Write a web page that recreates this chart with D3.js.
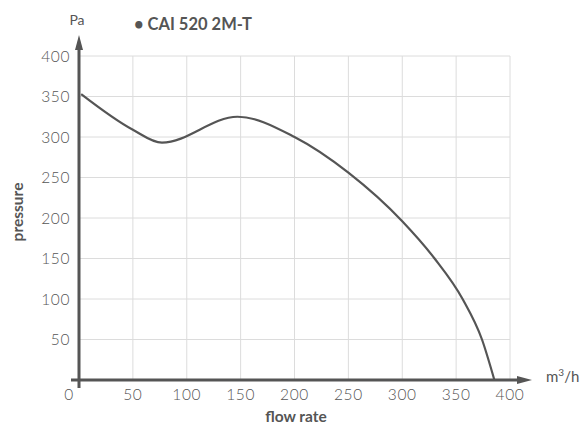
<!DOCTYPE html>
<html><head><meta charset="utf-8">
<script src="https://cdn.jsdelivr.net/npm/d3@7"></script>
<style>
body{margin:0;background:#fff;}
text{font-family:Lato,"Open Sans",sans-serif;fill:#555;}
</style></head>
<body><svg id="c" width="581" height="425"></svg>
<script>
const flowRate = [2, 50, 77, 147, 200, 250, 300, 330, 356, 374, 385.5];
const pressure = [353, 309, 293, 325, 300, 256, 196, 150, 100, 50, 0];
const xTicks = [0, 50, 100, 150, 200, 250, 300, 350, 400];
const yTicks = [50, 100, 150, 200, 250, 300, 350, 400];
const seriesName = "CAI 520 2M-T";

const svg = d3.select("#c");
const x = d3.scaleLinear().domain([0, 400]).range([79, 510]);
const y = d3.scaleLinear().domain([0, 400]).range([380, 56]);
const col = "#555";

// grid
svg.append("g").selectAll("line").data(xTicks.filter(d => d > 0)).join("line")
  .attr("x1", d => x(d)).attr("x2", d => x(d)).attr("y1", y(0)).attr("y2", y(400))
  .attr("stroke", "#dcdcdc").attr("stroke-width", 1);
svg.append("g").selectAll("line").data(yTicks).join("line")
  .attr("x1", x(0)).attr("x2", x(400)).attr("y1", d => y(d)).attr("y2", d => y(d))
  .attr("stroke", "#dcdcdc").attr("stroke-width", 1);

// curve
const pts = flowRate.map((f, i) => [f, pressure[i]]);
svg.append("path").datum(pts)
  .attr("d", d3.line().x(d => x(d[0])).y(d => y(d[1])).curve(d3.curveMonotoneX))
  .attr("fill", "none").attr("stroke", col).attr("stroke-width", 2.2);

// axes
svg.append("line").attr("x1", x(0)).attr("x2", x(0)).attr("y1", 388).attr("y2", 45)
  .attr("stroke", col).attr("stroke-width", 3);
svg.append("path").attr("d", `M${x(0)},35 L${x(0)+4},50 L${x(0)-4},50 Z`).attr("fill", col);
svg.append("line").attr("x1", 71).attr("x2", 522).attr("y1", y(0)).attr("y2", y(0))
  .attr("stroke", col).attr("stroke-width", 3);
svg.append("path").attr("d", `M532,${y(0)} L517,${y(0)-4} L517,${y(0)+4} Z`).attr("fill", col);

// tick labels
svg.append("g").selectAll("text").data(yTicks).join("text")
  .attr("x", 70).attr("y", d => y(d) + 5.5).attr("text-anchor", "end")
  .attr("font-size", 15.5).attr("font-weight", 300).attr("letter-spacing", 0.6).text(d => d);
svg.append("g").selectAll("text").data(xTicks).join("text")
  .attr("x", d => d === 0 ? x(d) - 10 : x(d)).attr("y", 400).attr("text-anchor", "middle")
  .attr("font-size", 15.5).attr("font-weight", 300).attr("letter-spacing", 0.6).text(d => d);

// labels
svg.append("text").attr("x", 77).attr("y", 25).attr("text-anchor", "middle")
  .attr("font-size", 14).text("Pa");
svg.append("text").attr("x", 134).attr("y", 30)
  .attr("font-size", 16.5).attr("font-weight", 700).text("• " + seriesName);
svg.append("text").attr("x", 546).attr("y", 382)
  .attr("font-size", 15).html("m<tspan font-size='10' dy='-6'>3</tspan><tspan dy='6'>/h</tspan>");
svg.append("text").attr("x", 296).attr("y", 422).attr("text-anchor", "middle")
  .attr("font-size", 15.5).attr("font-weight", 700).text("flow rate");
svg.append("text").attr("transform", "translate(23,212) rotate(-90)").attr("text-anchor", "middle")
  .attr("font-size", 15.5).attr("font-weight", 700).text("pressure");
</script></body></html>
